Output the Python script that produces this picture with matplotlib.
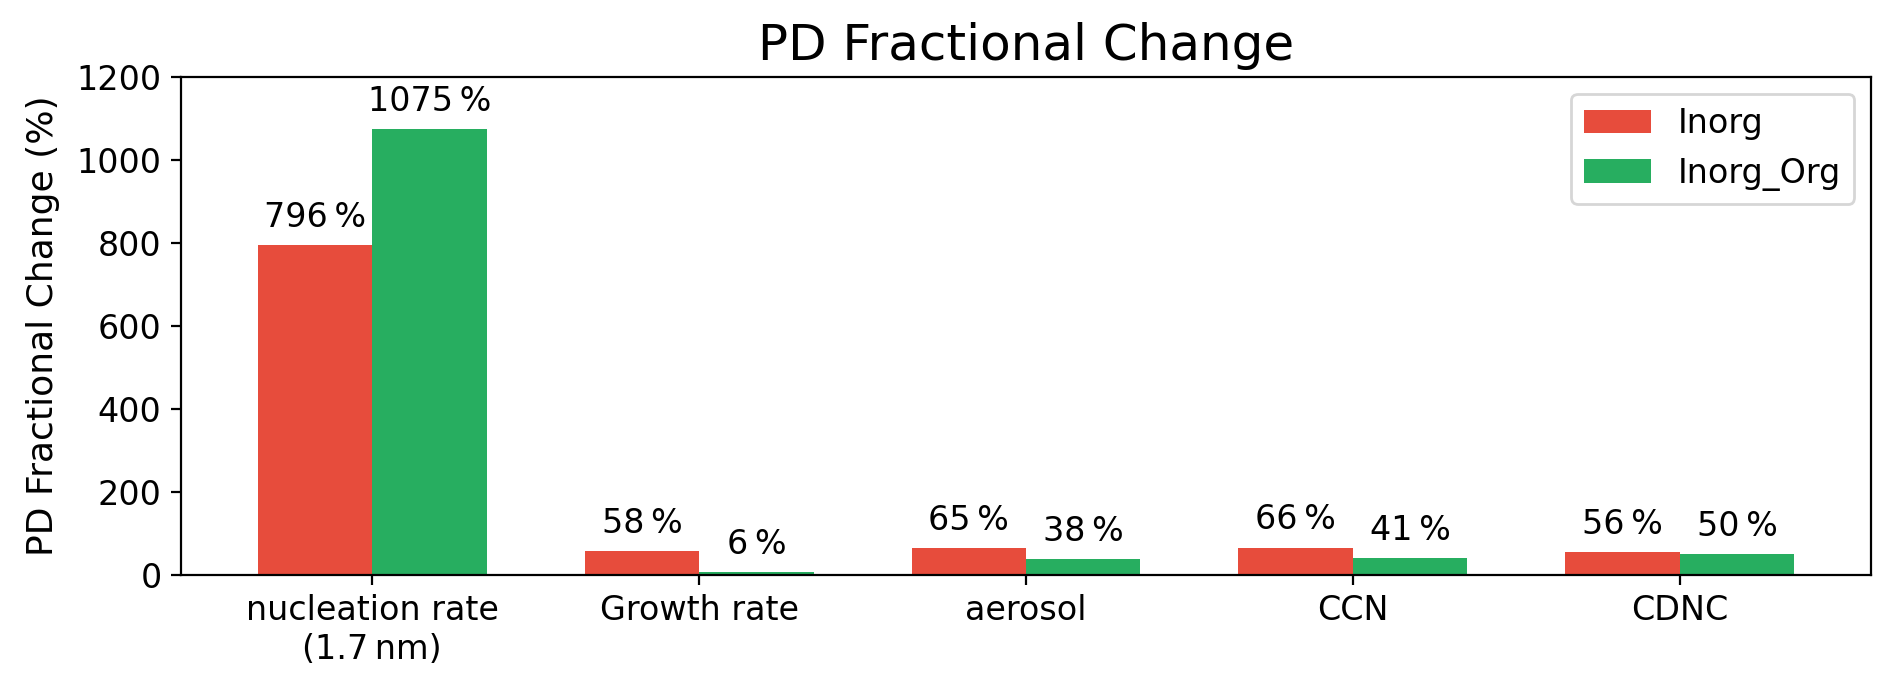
import numpy as np
import matplotlib.pyplot as plt

categories = ['nucleation rate\n(1.7\u2009nm)', 'Growth rate', 'aerosol', 'CCN', 'CDNC']
inorg = [796, 58, 65, 66, 56]
inorg_org = [1075, 6, 38, 41, 50]

x = np.arange(len(categories))
w = 0.35

fig, ax = plt.subplots(figsize=(9.46, 3.425), dpi=200)
b1 = ax.bar(x - w/2, inorg, w, color='#e74c3c', label='Inorg')
b2 = ax.bar(x + w/2, inorg_org, w, color='#27ae60', label='Inorg_Org')

# value labels on top of each bar
for bars in (b1, b2):
    for b in bars:
        h = b.get_height()
        ax.annotate(f'{h:.0f}\u2009%', (b.get_x() + b.get_width()/2, h),
                    xytext=(0, 4), textcoords='offset points',
                    ha='center', va='bottom', fontsize=12)

ax.set_xticks(x)
ax.set_xticklabels(categories, fontsize=12)
ax.set_ylim(0, 1200)
ax.tick_params(axis='y', labelsize=12)
ax.set_ylabel('PD Fractional Change (%)', fontsize=13, labelpad=6)
ax.set_title('PD Fractional Change', fontsize=18)
ax.legend(loc='upper right', fontsize=12)

fig.subplots_adjust(left=0.0957, right=0.9889, top=0.8876, bottom=0.1606)
fig.savefig('out.png', dpi=200, facecolor='w')
